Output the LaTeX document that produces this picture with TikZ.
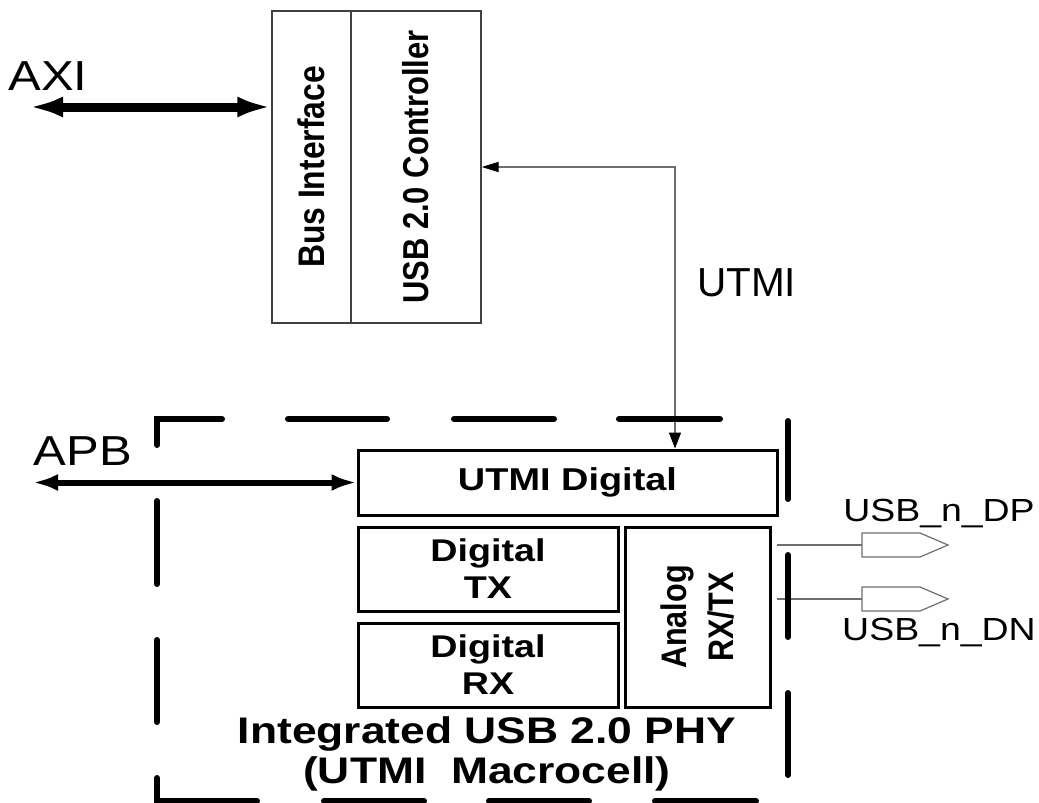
\documentclass[tikz,border=0pt]{standalone}
\usepackage{fontspec}
\setmainfont{Liberation Sans}
\newfontfamily\lblfont[FakeStretch=1.17]{Liberation Sans}
\newfontfamily\boxfont[FakeStretch=1.2]{Liberation Sans}
\newfontfamily\upfont[FakeStretch=0.86]{Liberation Sans}
\usetikzlibrary{arrows.meta,calc}
\definecolor{wire}{HTML}{6E6E6E}
\tikzset{ctlcell/.style={draw=black!75,line width=1.3pt,inner sep=0pt,rotate=90,minimum width=312pt}, blk/.style={draw,line width=3pt,inner sep=0pt,align=center,font=\boxfont\bfseries\fontsize{31.4}{37}\selectfont}, lbl/.style={inner sep=0pt,anchor=base,font=\lblfont\fontsize{41.9}{48}\selectfont}, axibus/.style={line width=9pt,{Latex[length=34pt,width=21pt]}-{Latex[length=34pt,width=21pt]}}, apbbus/.style={line width=6pt,{Latex[length=25pt,width=17pt]}-{Latex[length=25pt,width=17pt]}}, sig/.style={draw=wire,line width=1.3pt,{Triangle[length=17pt,width=10pt,color=black]}-{Triangle[length=16pt,width=12pt,color=black]}}, wireline/.style={draw=wire,line width=1.2pt}, pinshape/.style={draw=wire,line width=1.2pt}, border/.style={line width=6pt,line cap=round}}
\begin{document}
\begin{tikzpicture}[x=1pt,y=-1pt]
\useasboundingbox (0,0) rectangle (1039,803);
\node[ctlcell,minimum height=79pt,font=\upfont\bfseries\fontsize{37}{44}\selectfont] (bus) at (311.5,167) {Bus Interface};
\node[ctlcell,minimum height=130pt,font=\upfont\bfseries\fontsize{36}{43}\selectfont] (ctrl) at (416,167) {USB 2.0 Controller};
\node[blk,minimum width=419pt,minimum height=65pt,font=\boxfont\bfseries\fontsize{31.6}{37}\selectfont] (utmid) at (567.5,482.5) {UTMI Digital};
\node[blk,minimum width=260pt,minimum height=84pt] (dtx) at (488,569) {Digital\\TX};
\node[blk,minimum width=260pt,minimum height=84pt] (drx) at (488,665) {Digital\\RX};
\node[blk,rotate=90,minimum width=180pt,minimum height=145pt,font=\upfont\bfseries\fontsize{35.5}{47}\selectfont] (ana) at (697.5,617) {Analog\\RX/TX};
\node[inner sep=0pt,align=center,font=\boxfont\bfseries\fontsize{37}{40}\selectfont] (phy) at (487,753.5) {Integrated USB 2.0 PHY\\(UTMI\ \ Macrocell)};
\node[lbl] (axitxt) at (48,90) {AXI};
\node[lbl] (apbtxt) at (83,465) {APB};
\node[lbl,font=\rmfamily\fontsize{40.5}{48}\selectfont] (utmitxt) at (746.5,296) {UTMI};
\node[lbl,font=\lblfont\fontsize{32}{38}\selectfont] (dptxt) at (939,521) {USB\_n\_DP};
\node[lbl,font=\lblfont\fontsize{32}{38}\selectfont] (dntxt) at (939,640) {USB\_n\_DN};
\coordinate (axiend) at (29,107);
\coordinate (apbend) at (33,482.5);
\coordinate (bend) at (675,167);
\coordinate (dp) at (862,545);
\coordinate (dn) at (862,599);
\draw[axibus] (axiend) -- (bus.north |- axiend);
\draw[apbbus] (apbend) -- (utmid.west);
\draw[sig] (ctrl.south |- bend) -- (bend) -- (bend |- utmid.north);
\draw[wireline] ($(ana.south |- dp)+(5,0)$) -- (dp);
\draw[wireline] ($(ana.south |- dn)+(5,0)$) -- (dn);
\draw[pinshape] (dp) -- ++(0,-12) -- ++(58,0) -- ++(28,12) -- ++(-28,12) -- ++(-58,0) -- cycle;
\draw[pinshape] (dn) -- ++(0,-12) -- ++(58,0) -- ++(28,12) -- ++(-28,12) -- ++(-58,0) -- cycle;
\draw[border] (157,445) -- (157,419) -- (222,419) (288,419) -- (387,419) (454,419) -- (554,419) (619,419) -- (720,419);
\draw[border] (157,501) -- (157,584) (157,640) -- (157,722) (157,778) -- (157,801) -- (257,801) (324,801) -- (424,801) (489,801) -- (589,801) (655,801) -- (756,801);
\draw[border] (788,421) -- (788,499) (788,555) -- (788,637) (788,693) -- (788,775);
\end{tikzpicture}
\end{document}
